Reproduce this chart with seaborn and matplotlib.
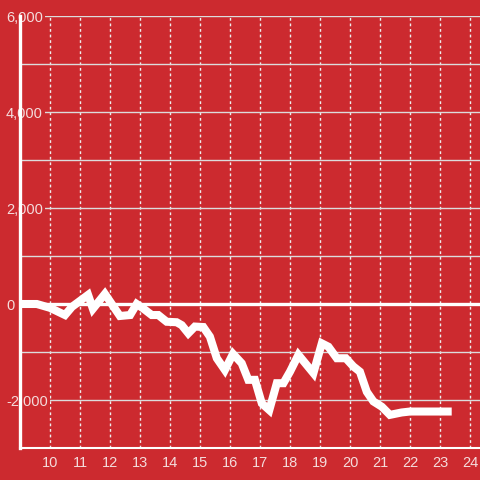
import numpy as np
import pandas as pd
import seaborn as sns
import matplotlib
matplotlib.use("Agg")
import matplotlib.pyplot as plt
from matplotlib.ticker import FuncFormatter, MultipleLocator

# hour of day vs running value
hours = [9.0, 9.56, 10.0, 10.5, 10.73, 11.27, 11.43, 11.83, 12.33, 12.67,
         12.89, 13.1, 13.39, 13.61, 13.89, 14.22, 14.39, 14.61, 14.83, 15.11,
         15.33, 15.56, 15.83, 16.1, 16.39, 16.61, 16.83, 17.06, 17.31, 17.56,
         17.78, 18.0, 18.28, 18.78, 19.06, 19.28, 19.56, 19.86, 20.11, 20.33,
         20.56, 20.78, 21.06, 21.33, 21.72, 22.0, 23.39]
values = [0, 0, -80, -230, -60, 190, -100, 210, -250, -230,
          0, -90, -230, -230, -370, -380, -440, -610, -470, -480,
          -680, -1130, -1375, -1040, -1235, -1580, -1580, -2070, -2210, -1650,
          -1650, -1410, -1060, -1440, -820, -890, -1130, -1130, -1300, -1410,
          -1830, -2030, -2140, -2310, -2260, -2240, -2240]

xticks = list(range(10, 25))
yticks = [-2000, 0, 2000, 4000, 6000]

bg = "#cc2a2f"
txt = "#f4dcdc"

sns.set_style("white", rc={"axes.facecolor": bg, "figure.facecolor": bg})
plt.rcParams["font.family"] = ["Liberation Sans", "DejaVu Sans"]

df = pd.DataFrame({"hour": hours, "value": values})

fig = plt.figure(figsize=(4.8, 4.8), dpi=100)
ax = fig.add_axes([20 / 480, 32 / 480, 460 / 480, 432 / 480])

ax.axhline(0, color="white", lw=2.4, zorder=1.8)
sns.lineplot(data=df, x="hour", y="value", ax=ax, color="white", lw=5.8,
             zorder=3, solid_joinstyle="miter", solid_capstyle="butt")

ax.set_xlim(9, 24.333)
ax.set_ylim(-3000, 6000)
ax.set_xticks(xticks)
ax.set_yticks(yticks)
ax.yaxis.set_minor_locator(MultipleLocator(1000))
ax.yaxis.set_major_formatter(FuncFormatter(lambda v, p: f"{int(v):,}"))
ax.set_xlabel("")
ax.set_ylabel("")

ax.grid(axis="y", which="both", color="#dcdcdc", lw=1)
ax.grid(axis="x", which="major", color="#eeeeee", lw=1, linestyle=(0, (2, 2)))

for s in ["top", "right"]:
    ax.spines[s].set_visible(False)
ax.spines["left"].set_color("white")
ax.spines["left"].set_linewidth(2.4)
ax.spines["left"].set_zorder(1)
ax.spines["bottom"].set_color("white")
ax.spines["bottom"].set_linewidth(1.5)

ax.tick_params(axis="both", which="both", length=0, labelcolor=txt, labelsize=10.5)
ax.tick_params(axis="x", pad=6)
ax.tick_params(axis="y", pad=10)

fig.canvas.draw()
for t in ax.yaxis.get_major_ticks():
    t.label1.set_horizontalalignment("left")
    t.label1.set_bbox(dict(facecolor=bg, edgecolor="none", pad=1.5))

fig.savefig("out.png", dpi=100, facecolor=bg)
